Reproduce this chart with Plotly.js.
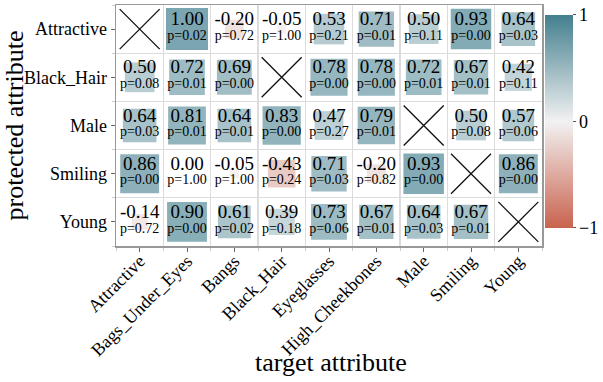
<!DOCTYPE html>
<html>
<head>
<meta charset="utf-8">
<script src="https://cdn.plot.ly/plotly-3.0.1.min.js"></script>
<style>
  html, body { margin: 0; padding: 0; background: #fff; }
  #chart { width: 603px; height: 382px; }
</style>
</head>
<body>
<div id="chart"></div>
<script>
// columns and rows
var targets = ['Attractive', 'Bags_Under_Eyes', 'Bangs', 'Black_Hair', 'Eyeglasses',
               'High_Cheekbones', 'Male', 'Smiling', 'Young'];
var protectedAttrs = ['Attractive', 'Black_Hair', 'Male', 'Smiling', 'Young'];

// correlation per row (null = same attribute, drawn as a cross)
var attractiveVals = [null, 1.00, -0.20, -0.05, 0.53, 0.71, 0.50, 0.93, 0.64];
var blackHairVals  = [0.50, 0.72, 0.69, null, 0.78, 0.78, 0.72, 0.67, 0.42];
var maleVals       = [0.64, 0.81, 0.64, 0.83, 0.47, 0.79, null, 0.50, 0.57];
var smilingVals    = [0.86, 0.00, -0.05, -0.43, 0.71, -0.20, 0.93, null, 0.86];
var youngVals      = [-0.14, 0.90, 0.61, 0.39, 0.73, 0.67, 0.64, 0.67, null];

// p values per row
var attractiveP = [null, 0.02, 0.72, 1.00, 0.21, 0.01, 0.11, 0.00, 0.03];
var blackHairP  = [0.08, 0.01, 0.00, null, 0.00, 0.00, 0.01, 0.01, 0.11];
var maleP       = [0.03, 0.01, 0.01, 0.00, 0.27, 0.01, null, 0.08, 0.06];
var smilingP    = [0.00, 1.00, 1.00, 0.24, 0.03, 0.82, 0.00, null, 0.00];
var youngP      = [0.72, 0.00, 0.02, 0.18, 0.06, 0.01, 0.03, 0.01, null];

var allVals = [attractiveVals, blackHairVals, maleVals, smilingVals, youngVals];
var allP = [attractiveP, blackHairP, maleP, smilingP, youngP];

var serif = 'Liberation Serif, Times New Roman, serif';
var cscale = [[0, '#c9624d'], [0.5, '#f2f2f2'], [1, '#437f8e']];

var sqX = [], sqY = [], sqS = [], sqC = [];
var crX = [], crY = [];
var vX = [], vY = [], vT = [];
var pX = [], pY = [], pT = [];
var i, j, v;

for (i = 0; i < protectedAttrs.length; i++) {
    for (j = 0; j < targets.length; j++) {
        v = allVals[i][j];
        if (v === null) {
            crX.push(j);
            crY.push(i);
            continue;
        }
        sqX.push(j);
        sqY.push(i);
        // square area follows |value|
        sqS.push(42 * Math.sqrt(Math.abs(v)));
        sqC.push(v);
        vX.push(j);
        vY.push(i - 0.18);
        vT.push(v.toFixed(2));
        pX.push(j);
        pY.push(i + 0.15);
        pT.push('p=' + allP[i][j].toFixed(2));
    }
}

var squares = {
    x: sqX, y: sqY,
    type: 'scatter', mode: 'markers',
    hoverinfo: 'skip',
    marker: {
        symbol: 'square', size: sqS, color: sqC,
        colorscale: cscale, cmin: -1, cmax: 1,
        line: {width: 0},
        showscale: true,
        colorbar: {
            x: 1.005, xanchor: 'left', xpad: 0,
            y: 0.517, yanchor: 'middle', ypad: 0,
            lenmode: 'pixels', len: 213,
            thickness: 28, outlinewidth: 0,
            tickvals: [-1, 0, 1], ticks: 'outside', ticklen: 3,
            tickcolor: '#555',
            tickfont: {family: serif, size: 18, color: '#000'}
        }
    }
};

var crosses = {
    x: crX, y: crY,
    type: 'scatter', mode: 'markers',
    hoverinfo: 'skip',
    marker: {symbol: 'x-thin-open', size: 40, color: '#111', line: {width: 1.3, color: '#111'}}
};

var valText = {
    x: vX, y: vY, text: vT,
    type: 'scatter', mode: 'text',
    textposition: 'middle center',
    hoverinfo: 'skip',
    textfont: {family: serif, size: 19, color: '#000'}
};

var pText = {
    x: pX, y: pY, text: pT,
    type: 'scatter', mode: 'text',
    textposition: 'middle center',
    hoverinfo: 'skip',
    textfont: {family: serif, size: 14, color: '#000'}
};

var layout = {
    width: 603, height: 382,
    margin: {l: 116, r: 60, t: 5, b: 136},
    paper_bgcolor: '#fff', plot_bgcolor: '#fff',
    showlegend: false,
    font: {family: serif, color: '#000'},
    xaxis: {
        range: [-0.5, 8.5],
        tickvals: targets.map(function (d, k) { return k; }),
        ticktext: targets,
        tickangle: -45,
        ticks: 'outside', ticklen: 4, tickcolor: '#666',
        ticklabelstandoff: -8,
        tickfont: {family: serif, size: 18},
        showgrid: false, zeroline: false,
        showline: true, mirror: true, linecolor: '#999', linewidth: 1.5,
        minor: {tickmode: 'linear', tick0: 0.5, dtick: 1, showgrid: true, gridcolor: '#dcdcdc', gridwidth: 1.2,
                ticks: 'outside', ticklen: 3, tickcolor: '#ccc'},
        fixedrange: true
    },
    yaxis: {
        range: [4.5, -0.5],
        tickvals: protectedAttrs.map(function (d, k) { return k; }),
        ticktext: protectedAttrs,
        ticks: 'outside', ticklen: 4, tickcolor: '#666',
        tickfont: {family: serif, size: 18},
        showgrid: false, zeroline: false,
        showline: true, mirror: true, linecolor: '#999', linewidth: 1.5,
        minor: {tickmode: 'linear', tick0: 0.5, dtick: 1, showgrid: true, gridcolor: '#dcdcdc', gridwidth: 1.2,
                ticks: 'outside', ticklen: 3, tickcolor: '#ccc'},
        title: {text: 'protected attribute', font: {family: serif, size: 26}, standoff: 4},
        fixedrange: true
    },
    annotations: [{
        text: 'target attribute',
        xref: 'paper', yref: 'paper',
        x: 0.505, y: -0.485,
        xanchor: 'center', yanchor: 'middle',
        showarrow: false,
        font: {family: serif, size: 26, color: '#000'}
    }]
};

Plotly.newPlot('chart', [squares, crosses, valText, pText], layout, {displayModeBar: false, staticPlot: true});
</script>
</body>
</html>
